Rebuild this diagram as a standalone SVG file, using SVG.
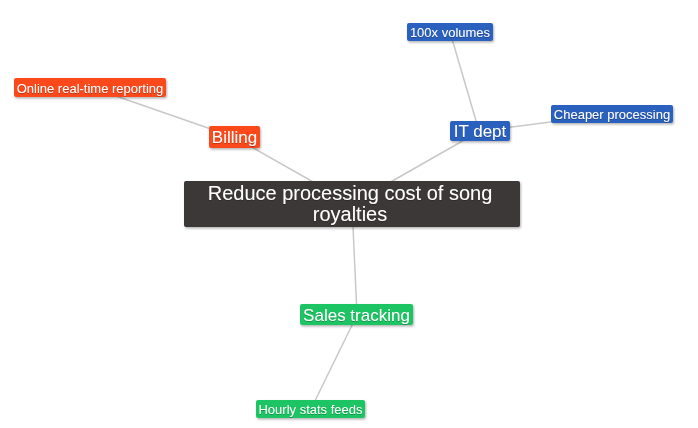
<svg xmlns="http://www.w3.org/2000/svg" width="698" height="428" viewBox="0 0 698 428">
<defs>
<filter id="sh" x="-20%" y="-40%" width="140%" height="180%">
<feDropShadow dx="1" dy="1.5" stdDeviation="1.2" flood-color="#000" flood-opacity="0.3"/>
</filter>
<filter id="ts" x="-5%" y="-20%" width="110%" height="140%">
<feDropShadow dx="0" dy="0.5" stdDeviation="0.5" flood-color="#000" flood-opacity="0.5"/>
</filter>
<style>
.lk{stroke:#c8c8c8;stroke-width:1.5;fill:none}
.box{filter:url(#sh)}
text{font-family:"Liberation Sans",Arial,sans-serif;fill:#fff;text-anchor:middle;filter:url(#ts)}
.s{font-size:13px}
.m{font-size:17px}
.l{font-size:20px}
.or{fill:#fb4a1c}
.bl{fill:#2a60be}
.gr{fill:#1ec463}
.dk{fill:#3c3837}
</style>
</defs>
<rect width="698" height="428" fill="#fff"/>
<g id="connectors">
<line class="lk" x1="352" y1="204" x2="234" y2="137"/>
<line class="lk" x1="352" y1="204" x2="480" y2="131"/>
<line class="lk" x1="352" y1="204" x2="357" y2="315"/>
<line class="lk" x1="90" y1="87" x2="234" y2="137"/>
<line class="lk" x1="450" y1="32" x2="479" y2="131"/>
<line class="lk" x1="612" y1="114" x2="480" y2="131"/>
<line class="lk" x1="311" y1="409" x2="357" y2="315"/>
</g>
<g id="root">
<rect class="box dk" x="184" y="181" width="336" height="46" rx="2"/>
<text class="l" x="350" y="200">Reduce processing cost of song</text>
<text class="l" x="350" y="221">royalties</text>
</g>
<g id="billing">
<rect class="box or" x="209" y="126" width="51" height="22" rx="2"/>
<text class="m" x="234.5" y="143">Billing</text>
</g>
<g id="online">
<rect class="box or" x="14" y="78" width="152" height="19" rx="2"/>
<text class="s" x="90" y="92.5">Online real-time reporting</text>
</g>
<g id="itdept">
<rect class="box bl" x="450" y="121" width="60" height="20" rx="2"/>
<text class="m" x="480" y="137">IT dept</text>
</g>
<g id="volumes">
<rect class="box bl" x="407" y="23" width="86" height="18" rx="2"/>
<text class="s" x="450" y="37">100x volumes</text>
</g>
<g id="cheaper">
<rect class="box bl" x="551" y="105" width="122" height="18" rx="2"/>
<text class="s" x="612" y="119">Cheaper processing</text>
</g>
<g id="sales">
<rect class="box gr" x="300" y="304" width="113" height="21" rx="2"/>
<text class="m" x="356.5" y="320.5">Sales tracking</text>
</g>
<g id="hourly">
<rect class="box gr" x="256" y="400" width="109" height="18" rx="2"/>
<text class="s" x="310.5" y="414">Hourly stats feeds</text>
</g>
</svg>
